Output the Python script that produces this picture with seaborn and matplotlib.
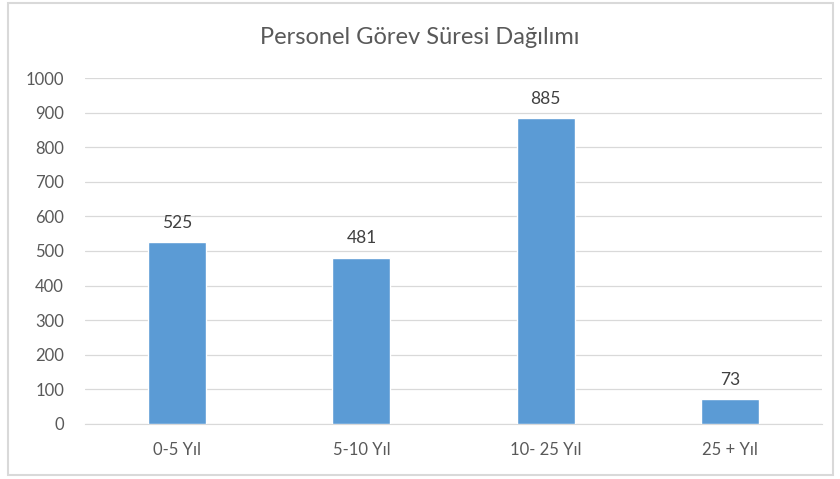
import matplotlib
matplotlib.use("Agg")
import matplotlib.pyplot as plt
import seaborn as sns
from matplotlib.patches import Rectangle

# Veriler
kategoriler = ["0-5 Yıl", "5-10 Yıl", "10- 25 Yıl", "25 + Yıl"]
personel_sayisi = [525, 481, 885, 73]
y_ticks = list(range(0, 1001, 100))

sns.set_style("white")
plt.rcParams["font.family"] = ["Lato", "DejaVu Sans"]

fig = plt.figure(figsize=(8.4, 4.79), dpi=100)
ax = fig.add_axes([0.101, 0.115, 0.878, 0.722])

sns.barplot(x=kategoriler, y=personel_sayisi, color="#5B9BD5", width=0.315,
            saturation=1, ax=ax, zorder=3)

ax.set_ylim(0, 1000)
ax.set_xlim(-0.5, 3.5)
ax.set_yticks(y_ticks)
ax.yaxis.grid(True, color="#D9D9D9", linewidth=0.9, zorder=0)
ax.set_axisbelow(True)
for s in ["top", "right", "left"]:
    ax.spines[s].set_visible(False)
ax.spines["bottom"].set_color("#D9D9D9")
ax.tick_params(axis="both", length=0, labelsize=12, colors="#595959")
ax.tick_params(axis="x", pad=13)
ax.tick_params(axis="y", pad=15)
ax.set_xlabel("")
ax.set_ylabel("")

ax.bar_label(ax.containers[0], padding=8, fontsize=12.5, color="#404040")

fig.text(0.5, 0.922, "Personel Görev Süresi Dağılımı", ha="center", va="center",
         fontsize=17, color="#595959")

# Grafik çerçevesi
fig.patches.append(Rectangle((0.009, 0.008), 0.983, 0.985, transform=fig.transFigure,
                             fill=False, edgecolor="#D9D9D9", linewidth=1.5))

fig.savefig("out.png", dpi=100)
